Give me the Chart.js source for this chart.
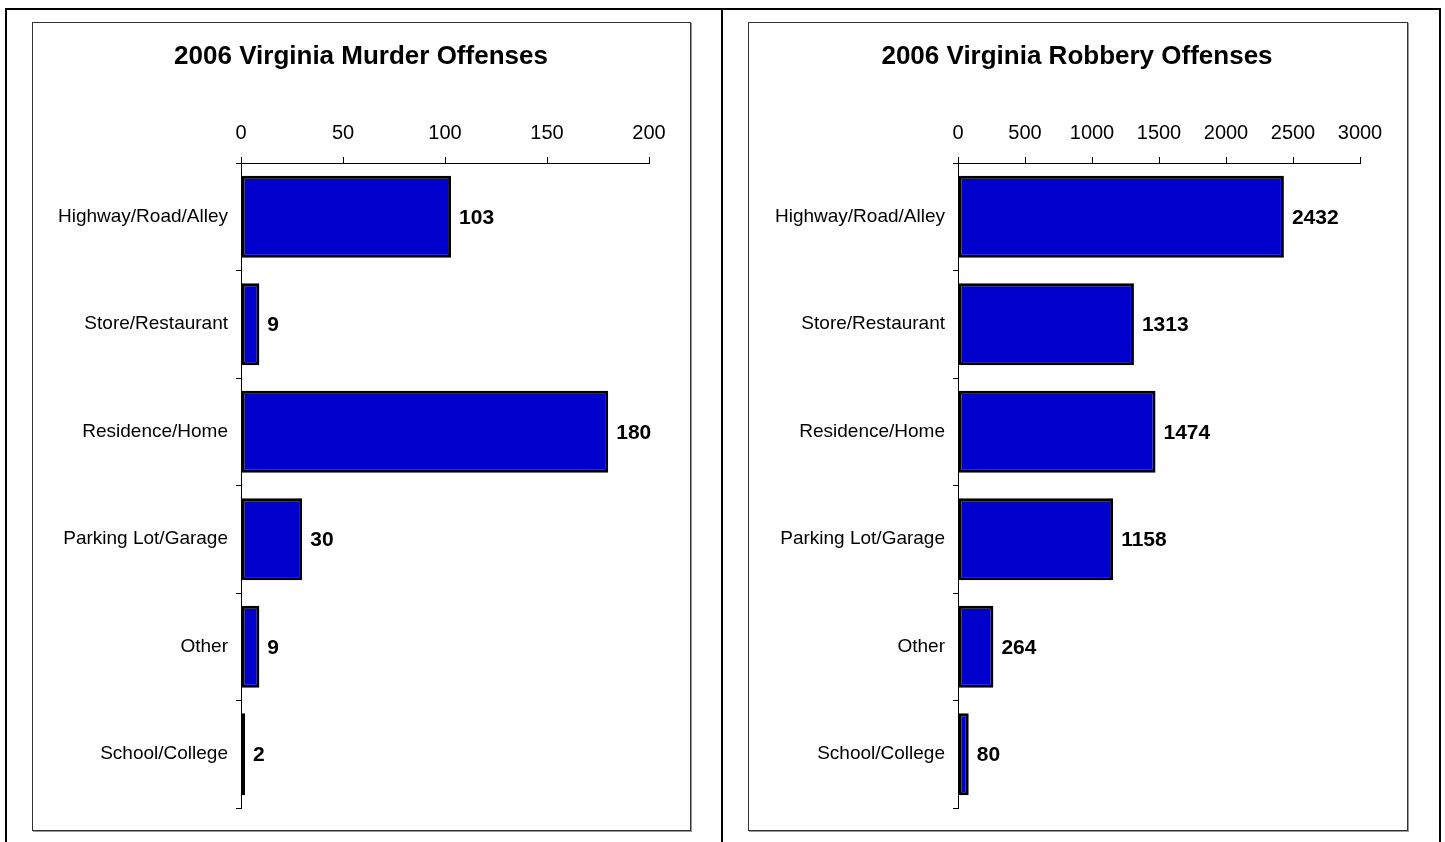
<!DOCTYPE html>
<html>
<head>
<meta charset="utf-8">
<title>2006 Virginia Offenses</title>
<script src="https://cdn.jsdelivr.net/npm/chart.js@4/dist/chart.umd.min.js"></script>
<style>
  html, body { margin:0; padding:0; background:#fff; }
  body { width:1445px; height:842px; position:relative; overflow:hidden; font-family:Arial, "Liberation Sans", sans-serif; }
  #frame { position:absolute; left:5px; top:8px; width:1432px; height:850px; border:2px solid #000; border-bottom:none; }
  #divider { position:absolute; left:721px; top:8px; width:2px; height:850px; background:#000; }
  .box { position:absolute; top:22px; height:807px; border:1px solid #333; box-shadow:1px 1px 0 #999; background:#fff; }
  .box canvas { position:absolute; left:0; top:0; }
</style>
</head>
<body>
<div id="frame"></div>
<div id="divider"></div>
<div class="box" id="boxL" style="left:32px;width:657px;"><canvas id="murder_chart"></canvas></div>
<div class="box" id="boxR" style="left:748px;width:658px;"><canvas id="robbery_chart"></canvas></div>
<script>
var categories = ['Highway/Road/Alley','Store/Restaurant','Residence/Home','Parking Lot/Garage','Other','School/College'];
var murderValues = [103, 9, 180, 30, 9, 2];
var robberyValues = [2432, 1313, 1474, 1158, 264, 80];
var murderTitle = '2006 Virginia Murder Offenses';
var robberyTitle = '2006 Virginia Robbery Offenses';
var murderAxis = { max:200, step:50 };
var robberyAxis = { max:3000, step:500 };

var FONT = 'Arial, "Liberation Sans", sans-serif';

// value labels at the end of each bar
var barLabels = {
  id:'barLabels',
  afterDatasetsDraw: function(chart){
    var ctx = chart.ctx, meta = chart.getDatasetMeta(0), vals = chart.data.datasets[0].data;
    ctx.save();
    ctx.font = 'bold 21px ' + FONT;
    ctx.fillStyle = '#000';
    ctx.textBaseline = 'middle';
    ctx.textAlign = 'left';
    meta.data.forEach(function(bar, i){ ctx.fillText(String(vals[i]), bar.x + 8, bar.y + 1); });
    ctx.restore();
  }
};

// yWidth = room left of the axis, rightGap = empty blank axis on the right
// (a blank axis instead of layout padding keeps the title centred on the whole box)
function makeChart(id, title, values, axis, yWidth, rightGap){
  var cv = document.getElementById(id);
  cv.width = 656; cv.height = 806;
  cv.style.width = '656px'; cv.style.height = '806px';
  return new Chart(cv.getContext('2d'), {
    type:'bar',
    data:{ labels:categories, datasets:[{ data:values, backgroundColor:'#0000cc', borderColor:'#000', borderWidth:3, borderSkipped:false, categoryPercentage:1, barPercentage:0.763 }] },
    options:{
      indexAxis:'y', responsive:false, animation:false,
      layout:{ padding:{ left:0, right:0, top:0, bottom:21 } },
      plugins:{
        legend:{ display:false }, tooltip:{ enabled:false },
        title:{ display:true, text:title, color:'#000', font:{ family:FONT, size:26, weight:'bold' }, padding:{ top:18, bottom:0 } }
      },
      scales:{
        x:{
          position:'top', min:0, max:axis.max,
          ticks:{ stepSize:axis.step, color:'#000', font:{ family:FONT, size:20 }, padding:12, maxRotation:0,
                  callback:function(v){ return String(v); } },
          grid:{ drawOnChartArea:false, drawTicks:true, tickLength:6, color:'#000' },
          border:{ display:true, color:'#000', width:1 },
          afterFit:function(s){ s.height = 140 - 49.2; }
        },
        y:{
          ticks:{ color:'#000', font:{ family:FONT, size:19 }, padding:8 },
          grid:{ drawOnChartArea:false, drawTicks:true, tickLength:5, color:'#000', offset:true },
          border:{ display:true, color:'#000', width:1 },
          afterFit:function(s){ s.width = yWidth; }
        },
        gap:{
          type:'category', position:'right', labels:categories,
          ticks:{ display:false }, grid:{ display:false }, border:{ display:false },
          afterFit:function(s){ s.width = rightGap; }
        }
      }
    },
    plugins:[barLabels]
  });
}

makeChart('murder_chart', murderTitle, murderValues, murderAxis, 208, 40);
makeChart('robbery_chart', robberyTitle, robberyValues, robberyAxis, 209, 45);
</script>
</body>
</html>
